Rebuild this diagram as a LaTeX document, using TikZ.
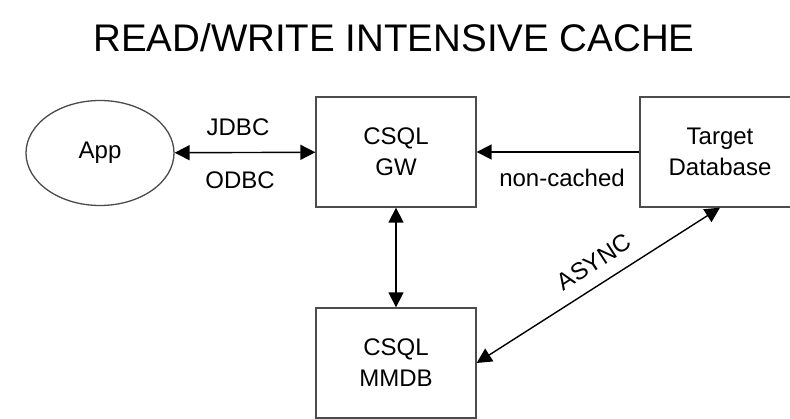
\documentclass[tikz,border=0pt]{standalone}
\usepackage{fontspec}
\setmainfont{Liberation Sans}
\usetikzlibrary{arrows.meta,shapes.geometric}

\begin{document}
\begin{tikzpicture}[
  x=1pt, y=-1pt,
  font=\fontsize{24}{31}\selectfont,
  block/.style={draw=black!70, line width=1.3pt, fill=white,
                align=center, minimum width=160pt, minimum height=110pt,
                inner sep=0pt},
  client/.style={ellipse, draw=black!70, line width=1.3pt,
                 minimum width=148pt, minimum height=105pt},
  link/.style={draw, line width=1.4pt,
               -{Triangle[length=15pt,width=15pt]}},
  twoway/.style={link, {Triangle[length=15pt,width=15pt]}-{Triangle[length=15pt,width=15pt]}},
  title/.style={font=\fontsize{38.5}{42}\selectfont}
]
\clip (0,0) rectangle (790,419);
\fill[white] (0,0) rectangle (790,419);

\node[title] (head) at (394,38) {READ/WRITE INTENSIVE CACHE};

% top row
\node[client] (app) at (100,153) {App};
\node[block] (gw) at (396,152) {CSQL\\GW};
\node[block] (target) at (720,152) {Target\\Database};

% cache below gateway
\node[block] (mmdb) at (396,363) {CSQL\\MMDB};

% connectors
\draw[twoway] (app) -- (gw);
\draw[link] (target) -- (gw);
\draw[twoway] (gw) -- (mmdb);
\draw[twoway] (mmdb.east) -- (target.south);

% labels
\node (jdbc) at (238,127) {JDBC};
\node (odbc) at (240,180) {ODBC};
\node (noncached) at (562,178) {non-cached};
\node[rotate=33] (async) at (594,262) {ASYNC};
\end{tikzpicture}
\end{document}
